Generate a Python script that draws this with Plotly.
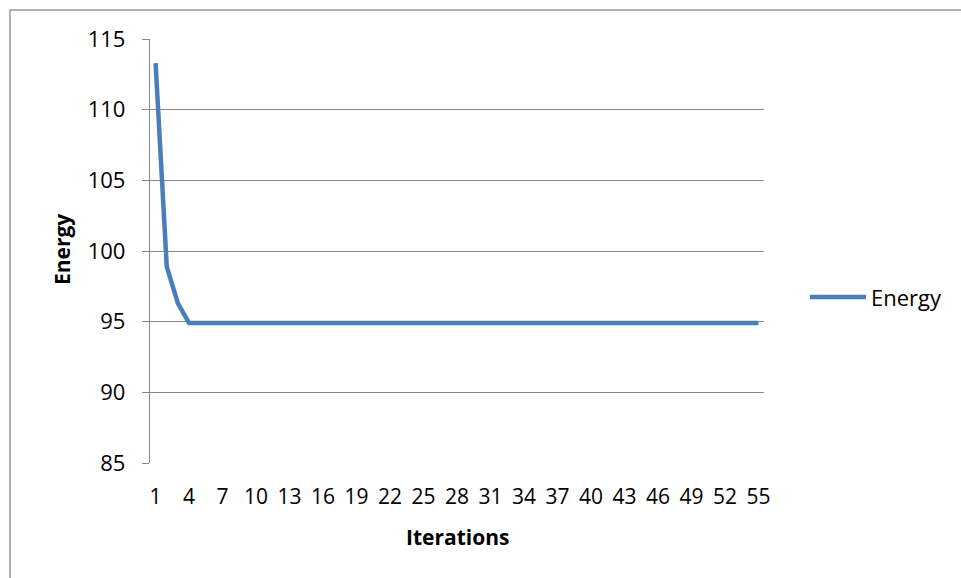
import plotly.graph_objects as go

# Energy per iteration
iterations = list(range(1, 56))
energy = [113.3, 98.9, 96.3, 94.9] + [94.9] * 51

x_tick_vals = list(range(1, 56, 3))
y_tick_vals = [85, 90, 95, 100, 105, 110, 115]

W, H = 961, 578
L, R, T, B = 150, 197, 39, 115
PW, PH = W - L - R, H - T - B

LINE_COLOR = "#4A7EBB"
GRID_COLOR = "#888888"
FONT = "Open Sans"


def px_x(px):
    return (px - L) / PW


def px_y(py):
    return (H - B - py) / PH


fig = go.Figure()
fig.add_trace(go.Scatter(
    x=iterations, y=energy, mode="lines",
    line=dict(color=LINE_COLOR, width=4.5),
    name="Energy", showlegend=False,
))

fig.update_layout(
    width=W, height=H,
    margin=dict(l=L, r=R, t=T, b=B),
    paper_bgcolor="white", plot_bgcolor="white",
    font=dict(family=FONT, size=22, color="black"),
    xaxis=dict(
        range=[0.5, 55.5], tickmode="array", tickvals=x_tick_vals,
        ticktext=[str(v) for v in x_tick_vals],
        showgrid=False, zeroline=False, showline=False,
        ticks="", ticklabelstandoff=19,
        tickfont=dict(family=FONT, size=21, color="black"),
    ),
    yaxis=dict(
        range=[85, 115], tickmode="array", tickvals=y_tick_vals,
        showgrid=True, gridcolor=GRID_COLOR, gridwidth=1.3,
        zeroline=False, showline=True, linecolor=GRID_COLOR, linewidth=1.3,
        ticks="outside", ticklen=7, tickcolor=GRID_COLOR, tickwidth=1.3,
        ticklabelstandoff=12,
        tickfont=dict(family=FONT, size=22, color="black"),
    ),
    shapes=[
        # chart border
        dict(type="rect", xref="paper", yref="paper",
             x0=px_x(10), y0=px_y(600), x1=px_x(990), y1=px_y(10),
             line=dict(color="#999999", width=1.5), layer="below"),
        # legend sample line
        dict(type="line", xref="paper", yref="paper",
             x0=px_x(810), x1=px_x(866), y0=px_y(297), y1=px_y(297),
             line=dict(color=LINE_COLOR, width=4.5)),
    ],
    annotations=[
        dict(text="<b>Energy</b>", xref="paper", yref="paper",
             x=px_x(62), y=px_y(250), xanchor="center", yanchor="middle",
             textangle=-90, showarrow=False,
             font=dict(family=FONT, size=21, color="black")),
        dict(text="<b>Iterations</b>", xref="paper", yref="paper",
             x=px_x(457), y=px_y(537), xanchor="center", yanchor="middle",
             showarrow=False,
             font=dict(family=FONT, size=21, color="black")),
        dict(text="Energy", xref="paper", yref="paper",
             x=px_x(869), y=px_y(297), xanchor="left", yanchor="middle",
             showarrow=False,
             font=dict(family=FONT, size=22, color="black")),
    ],
)

fig.write_html("out.html")
